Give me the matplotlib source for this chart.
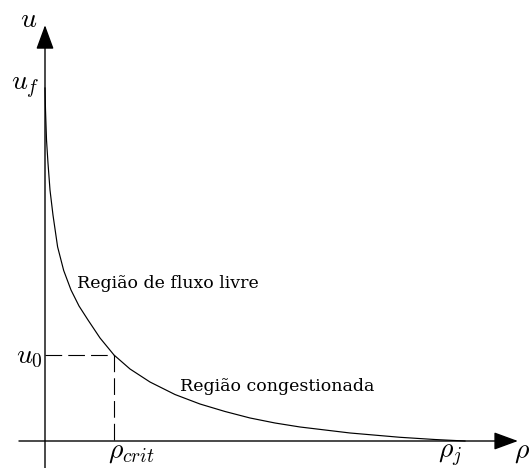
import matplotlib
matplotlib.use("Agg")
import matplotlib.pyplot as plt

plt.rcParams["mathtext.fontset"] = "cm"

# Normalised density (rho / rho_j) and speed (u / u_f) along the speed-density curve
rho = [0.0, 0.0012, 0.0036, 0.0071, 0.0119, 0.0190, 0.0300, 0.0445, 0.0619,
       0.0810, 0.1024, 0.1310, 0.1643, 0.2024, 0.2500, 0.3095, 0.3690, 0.4286,
       0.4881, 0.5476, 0.6071, 0.7262, 0.8452, 0.9286, 1.0]
u = [1.0, 0.9377, 0.8527, 0.7875, 0.7110, 0.6402, 0.5500, 0.4830, 0.4278,
     0.3824, 0.3428, 0.2918, 0.2436, 0.2040, 0.1671, 0.1317, 0.1048, 0.0836,
     0.0652, 0.0510, 0.0397, 0.0227, 0.0105, 0.0042, 0.0]

# Critical point
rho_crit = 0.1643
u_0 = 0.2436

region_labels = ["Região de fluxo livre", "Região congestionada"]

fig = plt.figure(figsize=(5.3, 4.68), dpi=100)
ax = fig.add_axes([0, 0, 1, 1])
ax.set_xlim(-45 / 420, 485 / 420)
ax.set_ylim(-27 / 353, 441 / 353)
ax.axis("off")

# Axes with arrow heads
arrow = dict(arrowstyle="-|>,head_length=1.5,head_width=0.55", mutation_scale=10,
             lw=1.0, color="black", shrinkA=0, shrinkB=0)
ax.annotate("", xy=(1.126, 0), xytext=(-0.062, 0), arrowprops=arrow)
ax.annotate("", xy=(0, 1.178), xytext=(0, -0.08), arrowprops=arrow)

# Speed-density curve
ax.plot(rho, u, color="black", lw=0.85, solid_joinstyle="round")

# Critical point guides
dash = dict(color="black", lw=0.8, dashes=(15, 5.5))
ax.plot([0, rho_crit], [u_0, u_0], **dash)
ax.plot([rho_crit, rho_crit], [u_0, 0], **dash)

# Axis labels
fs = 20
ax.text(-0.040, 1.173, r"$u$", fontsize=fs, ha="center", va="baseline")
ax.text(-0.012, 0.994, r"$u_f$", fontsize=fs, ha="right", va="baseline")
ax.text(-0.005, 0.221, r"$u_0$", fontsize=fs, ha="right", va="baseline")
ax.text(0.205, -0.048, r"$\rho_{crit}$", fontsize=fs, ha="center", va="baseline")
ax.text(0.964, -0.048, r"$\rho_j$", fontsize=fs, ha="center", va="baseline")
ax.text(1.136, -0.048, r"$\rho$", fontsize=fs, ha="center", va="baseline")

# Region annotations
ax.text(0.076, 0.433, region_labels[0], fontsize=12.5, family="DejaVu Serif",
        ha="left", va="baseline")
ax.text(0.321, 0.142, region_labels[1], fontsize=12.5, family="DejaVu Serif",
        ha="left", va="baseline")

fig.savefig("out.png", dpi=100)
